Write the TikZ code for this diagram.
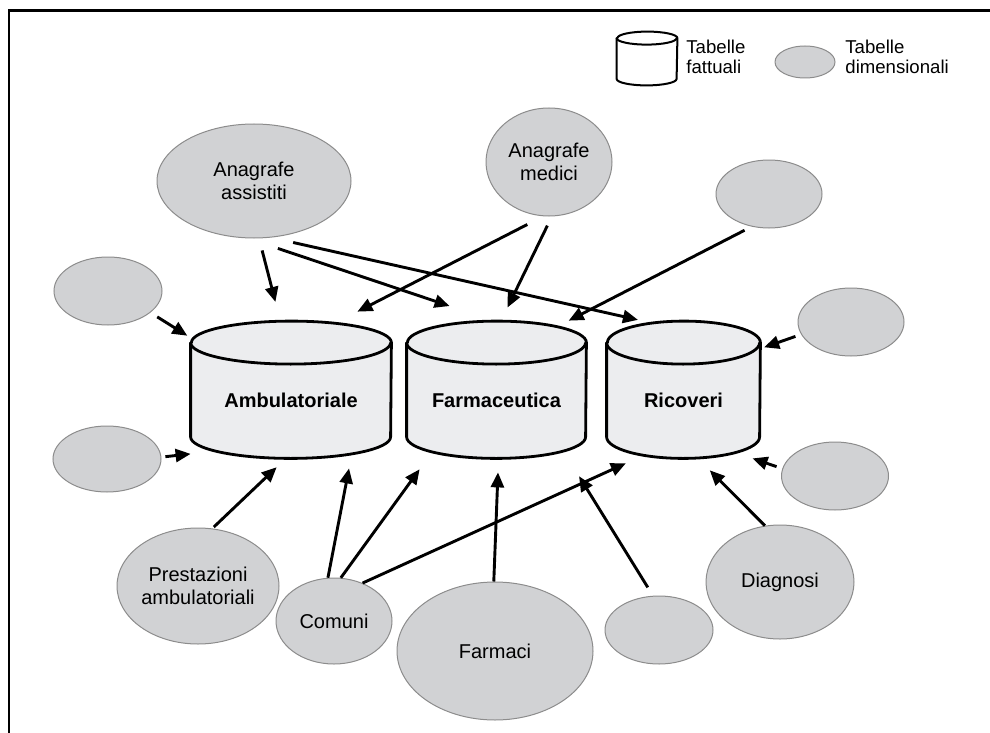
\documentclass[tikz,border=0pt]{standalone}
\usepackage{fontspec}
\setmainfont{Liberation Sans}
\usetikzlibrary{arrows.meta,shapes.geometric,backgrounds}
\definecolor{DimGray}{RGB}{209,210,212}
\definecolor{DimEdge}{RGB}{140,140,140}
\definecolor{FactFill}{RGB}{236,237,239}
\tikzset{
  dimtable/.style={ellipse,draw=DimEdge,fill=DimGray,line width=0.5pt,inner sep=0pt,
    align=center,font=\fontsize{10}{11.5}\selectfont},
  facttable/.style={inner sep=0pt,font=\fontsize{10}{12}\selectfont\bfseries},
  cylside/.style={draw=black,fill=FactFill,line width=1.4pt,line join=round},
  arrow/.style={-{Triangle[length=7.5pt,width=6.5pt]},line width=1.45pt},
  legendtext/.style={align=left,anchor=west,inner sep=0pt,font=\fontsize{9.3}{10}\selectfont},
  frame/.style={line width=1.2pt}
}

\begin{document}
\begin{tikzpicture}[x=0.5pt,y=-0.5pt]
  \useasboundingbox (0,0) rectangle (990,733);
  \draw[frame] (8.7,733) -- (8.7,10.5) -- (990,10.5);

  % legend
  \node[minimum width=30pt,minimum height=23.25pt,inner sep=0pt] (legcyl) at (647,61.75) {};
  \node[legendtext] (legfact) at (686,57) {Tabelle\\fattuali};
  \node[dimtable,minimum width=30pt,minimum height=16pt] (legdim) at (805,62) {};
  \node[legendtext] (legdimtext) at (845,57) {Tabelle\\dimensionali};

  % fact tables
  \node[facttable,minimum width=100pt,minimum height=57.5pt] (amb) at (291,400.5) {Ambulatoriale};
  \node[facttable,minimum width=89.5pt,minimum height=57.5pt] (farm) at (496.5,400.5) {Farmaceutica};
  \node[facttable,minimum width=76.5pt,minimum height=57.5pt] (ric) at (683.5,400.5) {Ricoveri};

  \begin{scope}[on background layer]
    \foreach \c/\r in {amb/50pt,farm/44.75pt,ric/38.25pt}{
      \draw[cylside] (\c.north west) -- ([yshift=10.75pt]\c.south west)
        arc[start angle=180,end angle=360,x radius=\r,y radius=10.75pt]
        -- (\c.north east) arc[start angle=0,end angle=180,x radius=\r,y radius=10.75pt] -- cycle;
      \draw[cylside,fill=none] (\c.north west) arc[start angle=180,end angle=360,x radius=\r,y radius=10.75pt];
    }
    \draw[cylside,fill=white,line width=1pt] (legcyl.north west) -- ([yshift=3.25pt]legcyl.south west)
      arc[start angle=180,end angle=360,x radius=15pt,y radius=3.25pt]
      -- (legcyl.north east) arc[start angle=0,end angle=180,x radius=15pt,y radius=3.25pt] -- cycle;
    \draw[cylside,fill=none,line width=1pt] (legcyl.north west) arc[start angle=180,end angle=360,x radius=15pt,y radius=3.25pt];
  \end{scope}

  % dimension tables
  \node[dimtable,minimum width=97pt,minimum height=57pt] (assist) at (254,181) {Anagrafe\\assistiti};
  \node[dimtable,minimum width=63pt,minimum height=54pt] (medici) at (549,162) {Anagrafe\\medici};
  \node[dimtable,minimum width=53pt,minimum height=34pt] (dimne) at (769,194) {};
  \node[dimtable,minimum width=53pt,minimum height=34pt] (dime) at (851,322) {};
  \node[dimtable,minimum width=53.5pt,minimum height=34pt] (dimse) at (835,476) {};
  \node[dimtable,minimum width=54pt,minimum height=34pt] (dimnw) at (108,291) {};
  \node[dimtable,minimum width=54pt,minimum height=33pt] (dimw) at (107,459) {};
  \node[dimtable,minimum width=81pt,minimum height=58pt] (prest) at (198,586) {Prestazioni\\ambulatoriali};
  \node[dimtable,minimum width=58pt,minimum height=43pt] (comuni) at (334,621) {Comuni};
  \node[dimtable,minimum width=98pt,minimum height=69pt] (farmaci) at (495,651) {Farmaci};
  \node[dimtable,minimum width=54pt,minimum height=34pt] (dims) at (659,630) {};
  \node[dimtable,minimum width=74pt,minimum height=57pt] (diagnosi) at (780,582) {Diagnosi};

  % connectors
  \draw[arrow,shorten <=6.2pt,shorten >=21pt] (assist.275) -- (amb.95.7);
  \draw[arrow,shorten <=15.8pt,shorten >=57.5pt] (assist.264.2) -- (farm.43.1);
  \draw[arrow,shorten <=11.2pt,shorten >=52pt] (assist.287) -- (ric.46.3);
  \draw[arrow,shorten <=9pt,shorten >=33.9pt] (medici.264.7) -- (amb.84.2);
  \draw[arrow,shorten <=5.1pt,shorten >=19.5pt] (medici.273.7) -- (farm.96.7);
  \draw[arrow,shorten <=4pt,shorten >=24pt] (dimne.242.5) -- (farm.63.5);
  \draw[arrow,shorten <=4pt,shorten >=6.5pt] (dimnw.333) -- (amb.148.4);
  \draw[arrow,shorten <=2pt] (dimw.2.1) -- (amb.208.3);
  \draw[arrow,shorten <=3pt,shorten >=2pt] (dime.194.5) -- (ric.34.2);
  \draw[arrow,shorten <=3pt] (dimse.172) -- (ric.320);
  \draw[arrow,shorten >=8.4pt] (diagnosi.105.1) -- (ric.284.5);
  \draw[arrow,shorten <=4.9pt,shorten >=10.5pt] (dims.100.1) -- (farm.321.6);
  \draw[arrow,shorten >=7pt] (farmaci.91.7) -- (farm.272.1);
  \draw[arrow,shorten <=1pt,shorten >=6.4pt] (prest.76.8) -- (amb.265.6);
  \draw[arrow,shorten >=5.1pt] (comuni.98) -- (amb.316.7);
  \draw[arrow,shorten >=6.7pt] (comuni.81) -- (farm.220.7);
  \draw[arrow,shorten >=5.9pt] (comuni.53) -- (ric.231.5);
\end{tikzpicture}
\end{document}
